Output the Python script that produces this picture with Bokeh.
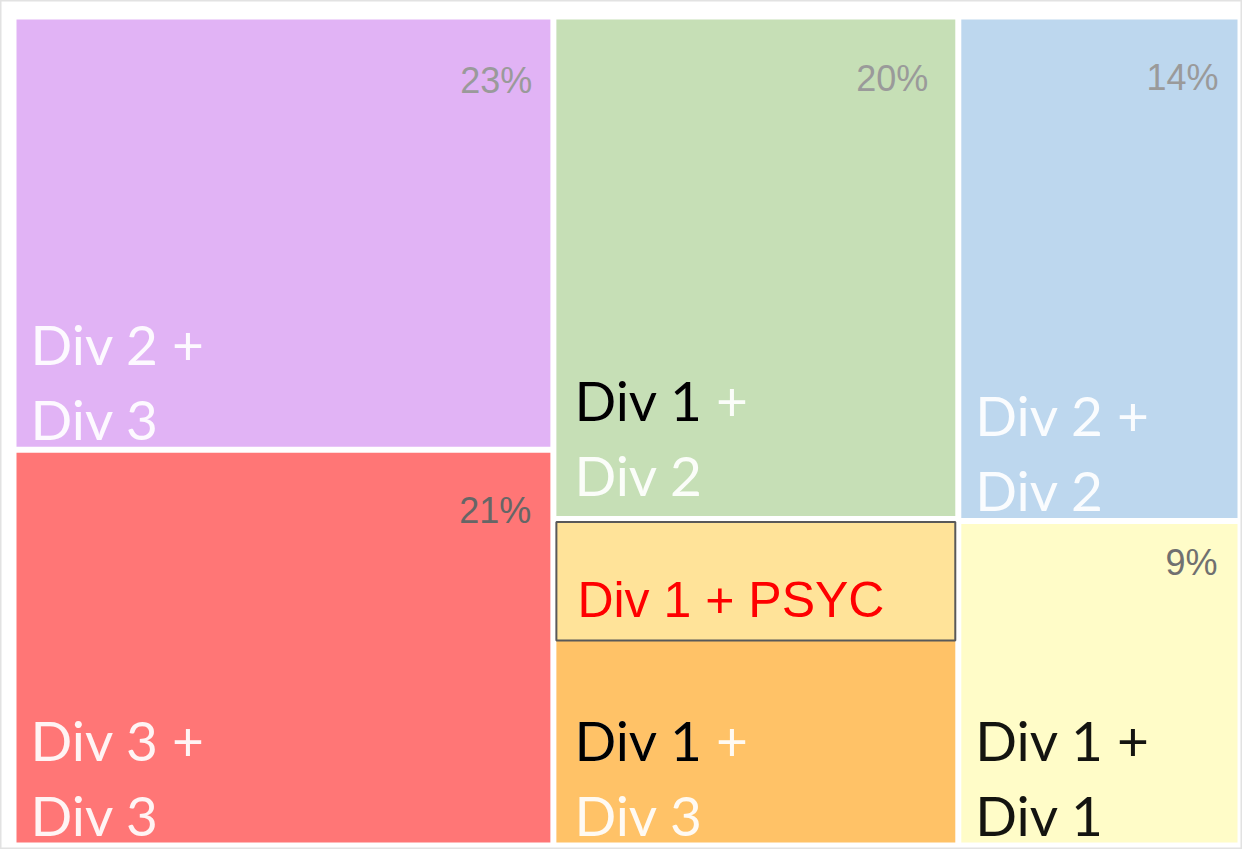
from bokeh.plotting import figure
from bokeh.models import Range1d
from bokeh.embed import file_html
from bokeh.resources import INLINE
from bokeh.core.properties import value

# ---- data (treemap of division combinations) ----
line1_labels = ["Div 2 +", "Div 3 +", "Div 1 +", "Div 1 +", "Div 2 +", "Div 1 +"]
line2_labels = ["Div 3", "Div 3", "Div 2", "Div 3", "Div 2", "Div 1"]
shares = [23, 21, 20, 13, 14, 9]
columns = [0, 0, 1, 1, 2, 2]
show_pct = [True, True, True, False, True, True]
fill_colors = ["#E1B3F5", "#FF7676", "#C6DFB6", "#FFC267", "#BDD7EE", "#FFFCC8"]
first_colors = ["#FFFFFF", "#FFFFFF", "#000000", "#000000", "#FFFFFF", "#000000"]
plus_colors = ["#FFFFFF", "#FFFFFF", "#FFFFFF", "#FFFFFF", "#FFFFFF", "#000000"]
second_colors = ["#FFFFFF", "#FFFFFF", "#FFFFFF", "#FFFFFF", "#FFFFFF", "#000000"]
pct_colors = ["#9A9A9A", "#666666", "#9A9A9A", "#9A9A9A", "#9A9A9A", "#707070"]
highlight_text = "Div 1 + PSYC"
highlight_cell = 3

# ---- layout (pixel-like units of the page) ----
X0, X1, Y0, Y1 = 21, 1248, 24, 853
GAP = 3
total = sum(shares)
col_ids = sorted(set(columns))
col_tot = {c: sum(s for s, cc in zip(shares, columns) if cc == c) for c in col_ids}
col_span = {}
xc = X0
for c in col_ids:
    w = (X1 - X0) * col_tot[c] / total
    col_span[c] = (xc, xc + w)
    xc += w

L, R, T, B = [], [], [], []
ycur = {c: Y0 for c in col_ids}
for s, c in zip(shares, columns):
    l, r = col_span[c]
    h = (Y1 - Y0) * s / col_tot[c]
    t = ycur[c]
    b = t + h
    ycur[c] = b
    L.append(l + GAP); R.append(r - GAP); T.append(t + GAP); B.append(b - GAP)

p = figure(width=1242, height=849, output_backend="svg", toolbar_location=None,
           x_range=Range1d(8, 1250), y_range=Range1d(857, 8), min_border=0)
p.axis.visible = False
p.grid.visible = False
p.outline_line_color = "#E2E2E2"
p.outline_line_width = 2
p.background_fill_color = "white"
p.border_fill_color = "white"

p.quad(left=L, right=R, top=T, bottom=B, fill_color=fill_colors, line_color=None)

# percentage labels (top-right)
pct_dx = {0: -18, 1: -19, 2: -27, 4: -19, 5: -20}
pct_dy = {0: 61, 1: 58, 2: 59, 4: 58, 5: 38}
px, py, pt, pc = [], [], [], []
for i, s in enumerate(shares):
    if not show_pct[i]:
        continue
    px.append(R[i] + pct_dx[i]); py.append(T[i] + pct_dy[i])
    pt.append(f"{s}%"); pc.append(pct_colors[i])
p.text(x=px, y=py, text=pt, text_color=pc, text_align="right", text_baseline="alphabetic",
       text_font=value("Liberation Sans"), text_font_size="36px")

# category labels (two lines, bottom-left)
lab_dx = {0: 14, 1: 18, 2: 14}
lab_dy2 = {i: -28 for i in range(len(shares))}
lab_dy2[2] = -41
LINE = 75
x1s, y1s, y2s = [], [], []
for i in range(len(shares)):
    x1s.append(L[i] + lab_dx[columns[i]])
    y2s.append(B[i] + lab_dy2[i])
    y1s.append(B[i] + lab_dy2[i] - LINE)

font = value("Lato")
fs = "55px"
p.text(x=x1s, y=y1s, text=line1_labels, text_color=plus_colors, text_alpha=0.92,
       text_baseline="alphabetic", text_font=font, text_font_size=fs)
ox, oy, ot, oc = [], [], [], []
for i in range(len(shares)):
    if first_colors[i] != plus_colors[i]:
        ox.append(x1s[i]); oy.append(y1s[i])
        ot.append(line1_labels[i].rsplit(" +", 1)[0]); oc.append(first_colors[i])
p.text(x=ox, y=oy, text=ot, text_color=oc, text_baseline="alphabetic",
       text_font=font, text_font_size=fs)
p.text(x=x1s, y=y2s, text=line2_labels, text_color=second_colors, text_alpha=0.92,
       text_baseline="alphabetic", text_font=font, text_font_size=fs)

# highlight box over the top of the Div 1 + Div 3 cell
h = highlight_cell
hb_bottom = T[h] + 0.37 * (B[h] - T[h])
p.quad(left=[L[h]], right=[R[h]], top=[T[h]], bottom=[hb_bottom],
       fill_color="#FFE399", line_color="#595959", line_width=2)
p.text(x=[L[h] + 21], y=[hb_bottom - 41], text=[highlight_text], text_color="#FF0000",
       text_baseline="alphabetic", text_font=value("Liberation Sans"), text_font_size="50px")

open("out.html", "w").write(file_html(p, INLINE))
